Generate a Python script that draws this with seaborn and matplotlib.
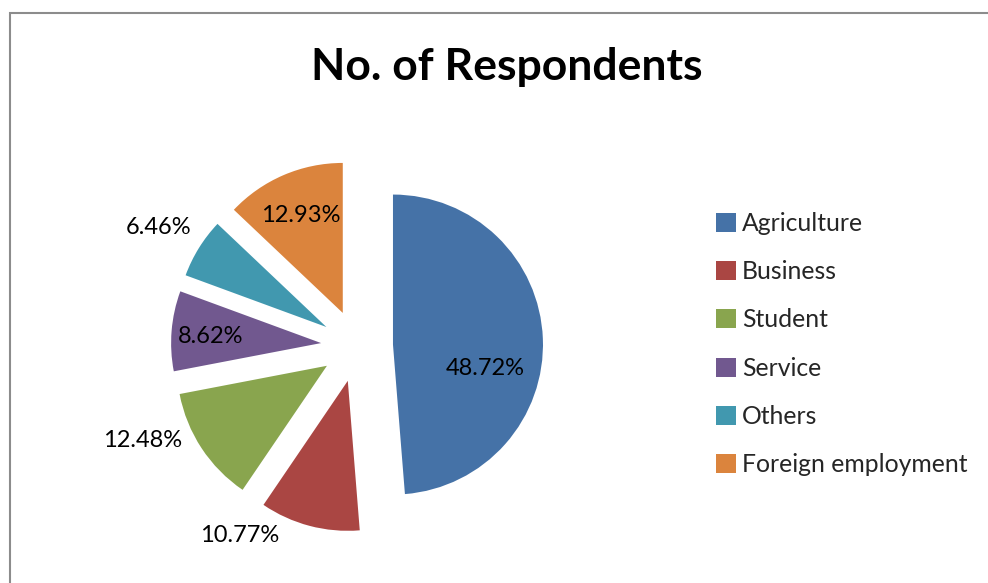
import numpy as np
import matplotlib
matplotlib.use("Agg")
import matplotlib.pyplot as plt
from matplotlib.patches import Rectangle
import seaborn as sns

# Occupation breakdown of survey respondents (percent)
categories = ["Agriculture", "Business", "Student", "Service", "Others", "Foreign employment"]
shares = [48.72, 10.77, 12.48, 8.62, 6.46, 12.93]
colors = ["#4572A7", "#AA4643", "#89A54E", "#71588F", "#4198AF", "#DB843D"]

# label placement: distance from pie centre (in radii) and angular nudge (deg)
label_radius = [0.87, 1.49, 1.56, 0.98, 1.54, 0.95]
label_nudge = [-12.0, -17.0, -9.5, 1.0, 1.0, 0.0]

sns.set_theme(style="white")
plt.rcParams["font.family"] = ["Lato", "DejaVu Sans"]

W, H, DPI = 988, 583, 100
fig = plt.figure(figsize=(W / DPI, H / DPI), dpi=DPI)
fig.patch.set_facecolor("white")

# axes covering the whole figure, one data unit = one pie radius (150 px)
R_PX = 150.0
CX, CY = 357.0, 346.0
ax = fig.add_axes([0, 0, 1, 1])
wedges, _ = ax.pie(
    shares,
    colors=colors,
    startangle=90,
    counterclock=False,
    explode=[0.24] * len(shares),
    radius=1.0,
    wedgeprops=dict(linewidth=0, edgecolor="none"),
)
ax.set_xlim(-CX / R_PX, (W - CX) / R_PX)
ax.set_ylim(-(H - CY) / R_PX, CY / R_PX)
ax.set_aspect("auto")
ax.axis("off")

for w, val, r, nudge in zip(wedges, shares, label_radius, label_nudge):
    ang = np.deg2rad((w.theta1 + w.theta2) / 2.0 + nudge)
    ax.text(r * np.cos(ang), r * np.sin(ang), f"{val:.2f}%",
            ha="center", va="center", fontsize=17, color="black")

ax.legend(
    wedges, categories,
    loc="upper left",
    bbox_to_anchor=(716 / W, 1 - 212 / H),
    bbox_transform=fig.transFigure,
    frameon=False,
    fontsize=17.8,
    handlelength=0.8,
    handleheight=0.8,
    handletextpad=0.25,
    labelspacing=1.02,
    borderpad=0,
    borderaxespad=0,
)

fig.text(507 / W, 1 - 67 / H, "No. of Respondents", ha="center", va="center",
         fontsize=32, fontweight="bold", color="black")

# chart area border (top and left edges visible)
fig.add_artist(Rectangle((9.5 / W, -0.1), 1.2, 0.1 + (H - 13) / H,
                         transform=fig.transFigure, fill=False,
                         edgecolor="#8C8C8C", linewidth=1.5))

fig.savefig("out.png", dpi=DPI, facecolor="white")
